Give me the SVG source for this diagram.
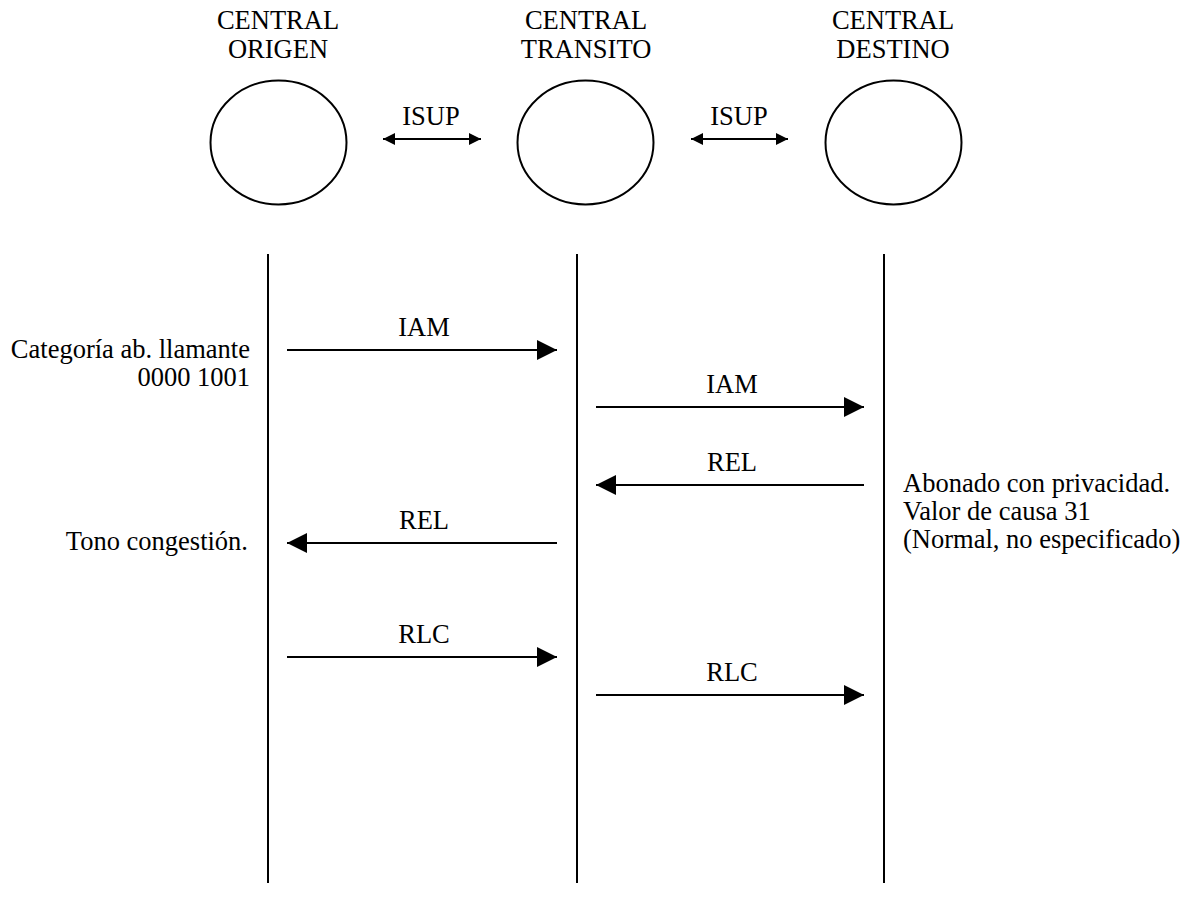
<svg xmlns="http://www.w3.org/2000/svg" width="1192" height="909" viewBox="0 0 1192 909">
<defs>
<style>
text{font-family:'Liberation Serif','Times New Roman',Times,serif;font-size:26.5px;fill:#000}
.c{text-anchor:middle}
.r{text-anchor:end}
.node{fill:#fff;stroke:#000;stroke-width:2}
.life{stroke:#000;stroke-width:2}
.msg{stroke:#000;stroke-width:2;fill:none}
</style>
<marker id="ah" viewBox="0 0 20 20" refX="20" refY="10" markerWidth="20" markerHeight="20" markerUnits="userSpaceOnUse" orient="auto-start-reverse">
<path d="M0,0 L20,10 L0,20 z" fill="#000"/>
</marker>
<marker id="ah2" viewBox="0 0 12 12" refX="12" refY="6" markerWidth="12" markerHeight="12" markerUnits="userSpaceOnUse" orient="auto-start-reverse">
<path d="M0,0 L12,6 L0,12 z" fill="#000"/>
</marker>
</defs>
<rect width="1192" height="909" fill="#fff"/>
<g id="origen">
<text class="c" x="278" y="29">CENTRAL</text>
<text class="c" x="278" y="58">ORIGEN</text>
<ellipse class="node" cx="278.5" cy="142.5" rx="68" ry="62"/>
</g>
<g id="transito">
<text class="c" x="586" y="29">CENTRAL</text>
<text class="c" x="586" y="58">TRANSITO</text>
<ellipse class="node" cx="585.5" cy="142.5" rx="68" ry="62"/>
</g>
<g id="destino">
<text class="c" x="893" y="29">CENTRAL</text>
<text class="c" x="893" y="58">DESTINO</text>
<ellipse class="node" cx="893.5" cy="142.5" rx="68" ry="62"/>
</g>
<g id="lifelines">
<line class="life" x1="268" y1="254" x2="268" y2="883"/>
<line class="life" x1="577" y1="254" x2="577" y2="883"/>
<line class="life" x1="884" y1="254" x2="884" y2="883"/>
</g>
<g id="connectors">
<line class="msg" x1="383" y1="139" x2="481" y2="139" marker-start="url(#ah2)" marker-end="url(#ah2)"/>
<text class="c" x="431" y="125">ISUP</text>
<line class="msg" x1="691" y1="139" x2="788" y2="139" marker-start="url(#ah2)" marker-end="url(#ah2)"/>
<text class="c" x="739" y="125">ISUP</text>
<line class="msg" x1="287" y1="350" x2="557" y2="350" marker-end="url(#ah)"/>
<text class="c" x="424" y="336">IAM</text>
<line class="msg" x1="596" y1="407" x2="864" y2="407" marker-end="url(#ah)"/>
<text class="c" x="732" y="393">IAM</text>
<line class="msg" x1="864" y1="485" x2="596" y2="485" marker-end="url(#ah)"/>
<text class="c" x="732" y="471">REL</text>
<line class="msg" x1="557" y1="543" x2="287" y2="543" marker-end="url(#ah)"/>
<text class="c" x="424" y="529">REL</text>
<line class="msg" x1="287" y1="657" x2="557" y2="657" marker-end="url(#ah)"/>
<text class="c" x="424" y="643">RLC</text>
<line class="msg" x1="596" y1="695" x2="864" y2="695" marker-end="url(#ah)"/>
<text class="c" x="732" y="681">RLC</text>
</g>
<g id="notes">
<text class="r" x="250" y="358">Categoría ab. llamante</text>
<text class="r" x="250" y="386">0000 1001</text>
<text class="r" x="248" y="550">Tono congestión.</text>
<text x="903" y="492">Abonado con privacidad.</text>
<text x="903" y="520">Valor de causa 31</text>
<text x="903" y="548">(Normal, no especificado)</text>
</g>
</svg>
